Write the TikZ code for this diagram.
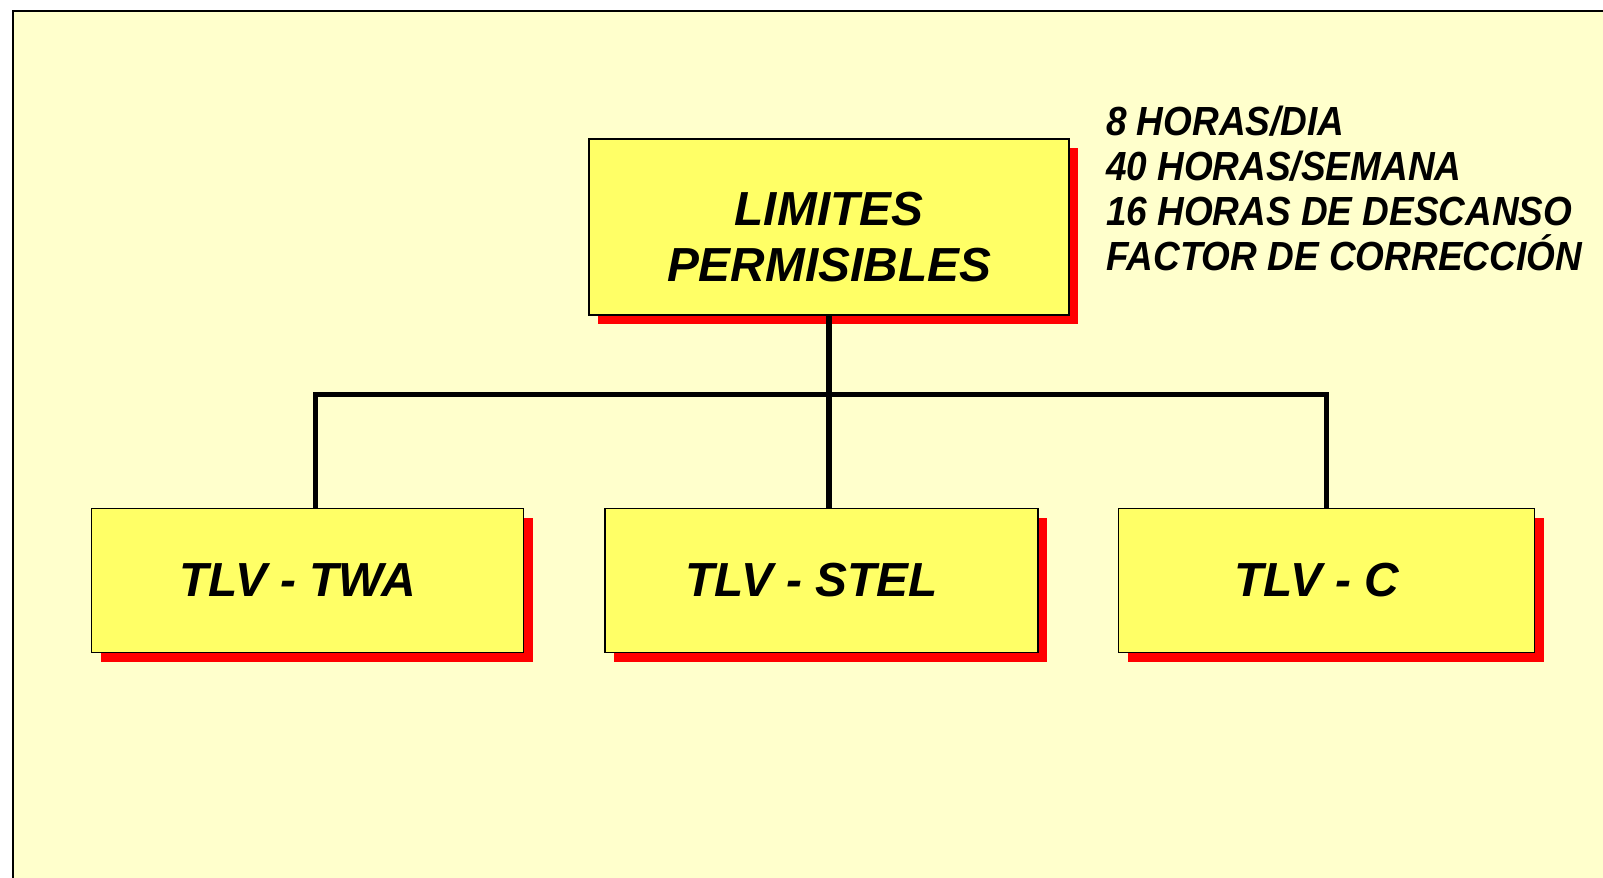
\documentclass[tikz,border=0pt]{standalone}
\usepackage{fontspec}
\usepackage{graphicx}
\setmainfont{Liberation Sans}
\usetikzlibrary{positioning}
\usetikzlibrary{shadows}

\definecolor{slidebg}{HTML}{FFFFCC}
\definecolor{boxfill}{HTML}{FFFF66}

\tikzset{
	block/.style={draw=black, line width=1.1pt, fill=boxfill, inner sep=0pt,
		font=\fontsize{34}{40}\selectfont\bfseries\itshape,
		drop shadow={fill=red, opacity=1, shadow xshift=2.3mm, shadow yshift=-2.3mm}},
	leaf/.style={block, minimum height=3.6cm, execute at end node={\hspace*{5mm}}},
	link/.style={line width=3.9pt, black},
	note/.style={inner sep=0pt, font=\fontsize{26.3}{29}\selectfont\bfseries\itshape}
}

\begin{document}
\begin{tikzpicture}
			\useasboundingbox (0,0) rectangle (40.075,21.95);
			\clip (0,0) rectangle (40.075,21.95);
			\fill[white] (0,0) rectangle (40.075,21.95);
			\draw[line width=1.4pt, fill=slidebg] (0.325,21.675) rectangle (41,-1);

			\node[block, minimum width=12cm, minimum height=4.4cm] (Limits) at (20.725,16.275)
				{\raisebox{-17pt}[0pt][0pt]{\begin{tabular}{@{}c@{}}LIMITES\\PERMISIBLES\end{tabular}}};
			\node[leaf, minimum width=10.825cm] (STEL) [below=4.8cm of Limits, xshift=-1.85mm] {TLV - STEL};
			\node[leaf, minimum width=10.8cm] (TWA) [left=2cm of STEL] {TLV - TWA};
			\node[leaf, minimum width=10.4cm] (Ceiling) [right=1.975cm of STEL] {TLV - C};

			\node[note, anchor=north west] (Hours) at ([xshift=9mm,yshift=8.6mm]Limits.north east)
				{\scalebox{1}[1.1]{\begin{tabular}{@{}l@{}}8 HORAS/DIA\\40 HORAS/SEMANA\\16 HORAS DE DESCANSO\\\smash{FACTOR DE CORRECCIÓN}\end{tabular}}};

			\coordinate (Bus) at (Limits.south |- 0,12.085);
			\draw[link] (Limits.south) -- (Limits.south |- STEL.north);
			\draw[link] ([xshift=2mm]TWA.north) |- (Bus) -| (Ceiling.north);
\end{tikzpicture}
\end{document}
